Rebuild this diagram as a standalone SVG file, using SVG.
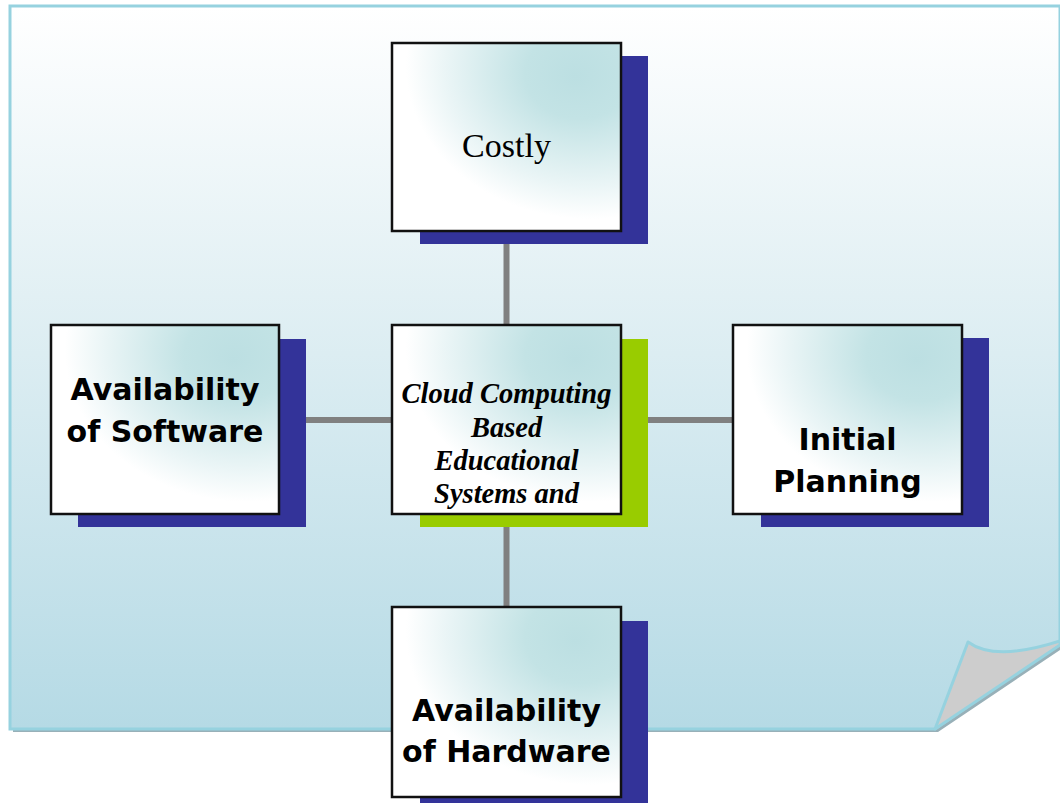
<svg xmlns="http://www.w3.org/2000/svg" width="1060" height="803" viewBox="0 0 1060 803">
<style>
.box{stroke:#111;stroke-width:2.5;fill:url(#boxg)}
.shb{fill:#333399}
.shg{fill:#99cc00}
.conn{stroke:#808080;stroke-width:6;fill:none}
.sans{font-family:"DejaVu Sans","Liberation Sans",sans-serif;font-weight:bold;font-size:30px;fill:#000;text-anchor:middle}
.serif{font-family:"Liberation Serif","Times New Roman",serif;fill:#000;text-anchor:middle}
</style>
<defs>
<linearGradient id="pageg" x1="0" y1="0" x2="0" y2="1">
<stop offset="0" stop-color="#ffffff"/>
<stop offset="0.4" stop-color="#e2f0f4"/>
<stop offset="1" stop-color="#b5dae5"/>
</linearGradient>
<radialGradient id="boxg" cx="0.88" cy="0.12" r="0.95" fx="0.8" fy="0.18">
<stop offset="0" stop-color="#bcdfe2"/>
<stop offset="0.25" stop-color="#c3e3e5"/>
<stop offset="0.65" stop-color="#eaf5f6"/>
<stop offset="0.85" stop-color="#ffffff"/>
<stop offset="1" stop-color="#ffffff"/>
</radialGradient>
</defs>
<g id="page">
<path d="M13,732 H938 L1060,650 V644 L935,729 H13 Z" fill="#98b0b8"/>
<path d="M10,6 H1060 V643 L935,729 H10 Z" fill="url(#pageg)" stroke="#96d2df" stroke-width="3"/>
<path d="M935,729 L968,642 Q995,662 1060,641 L1060,645 Z" fill="#cdcdcd" stroke="#96d2df" stroke-width="3" stroke-linejoin="round"/>
</g>
<g id="connectors">
<line class="conn" x1="506.5" y1="244" x2="506.5" y2="325"/>
<line class="conn" x1="506.5" y1="527" x2="506.5" y2="607"/>
<line class="conn" x1="306" y1="420" x2="392" y2="420"/>
<line class="conn" x1="648" y1="420" x2="733" y2="420"/>
</g>
<g id="node-costly">
<rect class="shb" x="420" y="56" width="228" height="188"/>
<rect class="box" x="392" y="43" width="229" height="188"/>
<text class="serif" x="506.5" y="157" font-size="34">Costly</text>
</g>
<g id="node-center">
<rect class="shg" x="420" y="339" width="228" height="188"/>
<rect class="box" x="392" y="325" width="229" height="189"/>
<text class="serif" x="506.5" font-size="28.5" font-weight="bold" font-style="italic"><tspan x="506.5" y="403">Cloud Computing</tspan><tspan x="506.5" y="436.5">Based</tspan><tspan x="506.5" y="470">Educational</tspan><tspan x="506.5" y="503">Systems and</tspan></text>
</g>
<g id="node-software">
<rect class="shb" x="78" y="339" width="228" height="188"/>
<rect class="box" x="51" y="325" width="228" height="189"/>
<text class="sans"><tspan x="165" y="400">Availability</tspan><tspan x="165" y="442">of Software</tspan></text>
</g>
<g id="node-planning">
<rect class="shb" x="761" y="338" width="228" height="189"/>
<rect class="box" x="733" y="325" width="229" height="189"/>
<text class="sans"><tspan x="847.5" y="450">Initial</tspan><tspan x="847.5" y="492">Planning</tspan></text>
</g>
<g id="node-hardware">
<rect class="shb" x="420" y="621" width="228" height="190"/>
<rect class="box" x="392" y="607" width="229" height="190"/>
<text class="sans"><tspan x="506.5" y="721">Availability</tspan><tspan x="506.5" y="762">of Hardware</tspan></text>
</g>
</svg>
